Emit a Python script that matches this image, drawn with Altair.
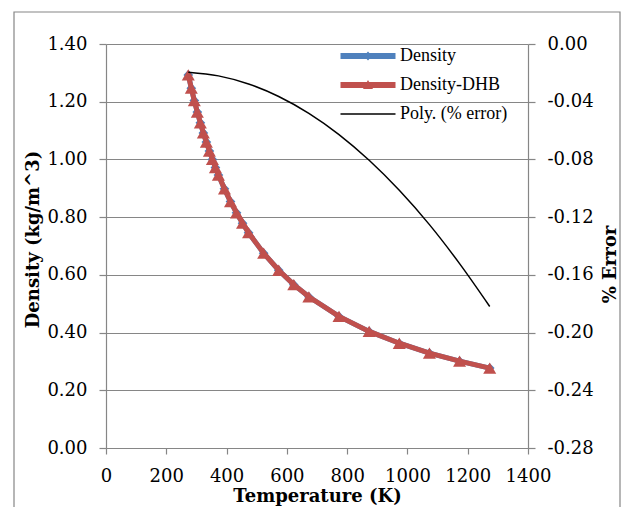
import altair as alt
import pandas as pd

# ---- data ----
temps = [273, 283, 293, 303, 313, 323, 333, 343, 353, 363, 373, 393, 413, 433,
         453, 473, 523, 573, 623, 673, 773, 873, 973, 1073, 1173, 1273]
density = [1.293, 1.247, 1.204, 1.164, 1.127, 1.092, 1.060, 1.029, 1.000, 0.972,
           0.946, 0.898, 0.854, 0.815, 0.779, 0.746, 0.675, 0.616, 0.566, 0.524,
           0.456, 0.404, 0.363, 0.329, 0.301, 0.277]
density_dhb = [1.293, 1.247, 1.204, 1.164, 1.127, 1.092, 1.060, 1.029, 1.000, 0.972,
               0.946, 0.898, 0.854, 0.815, 0.779, 0.746, 0.675, 0.616, 0.566, 0.524,
               0.456, 0.404, 0.363, 0.329, 0.301, 0.277]
err_temps = [273, 373, 473, 573, 673, 773, 873, 973, 1073, 1173, 1273]
err_poly = [-0.0195, -0.0221, -0.0277, -0.0364, -0.0481, -0.0628, -0.0806,
            -0.1014, -0.1252, -0.1522, -0.1819]

series_names = ["Density", "Density-DHB", "Poly. (% error)"]
series_colors = ["#4F81BD", "#C0504D", "#000000"]
legend_paths = [
    "M-5.5,-0.6L5.5,-0.6L5.5,0.6L-5.5,0.6Z M0,-0.9L0.8,0L0,0.9L-0.8,0Z",
    "M-5.5,-0.6L5.5,-0.6L5.5,0.6L-5.5,0.6Z M0,-1.0L1.0,0.8L-1.0,0.8Z",
    "M-5.5,-0.15L5.5,-0.15L5.5,0.15L-5.5,0.15Z",
]

x_ticks = [0, 200, 400, 600, 800, 1000, 1200, 1400]
left_ticks = [0.0, 0.2, 0.4, 0.6, 0.8, 1.0, 1.2, 1.4]
right_ticks = [-0.28, -0.24, -0.20, -0.16, -0.12, -0.08, -0.04, 0.0]

df = pd.DataFrame({"T": temps, "density": density, "dhb": density_dhb})
df_err = pd.DataFrame({"T": err_temps, "err": err_poly})
df_leg = pd.DataFrame({"series": series_names})
df_frame = pd.DataFrame({"a": [0]})

GRAY = "#868686"
TICK_FONT = "DejaVu Serif"
TITLE_FONT = "DejaVu Serif"

x_enc = alt.X("T:Q", scale=alt.Scale(domain=[0, 1400], nice=False),
              axis=alt.Axis(values=x_ticks, title="Temperature (K)", grid=False,
                            format="d", tickSize=6, labelPadding=13,
                            labelOverlap=False, labelFlush=False,
                            titlePadding=2))

y_left = alt.Y("density:Q", scale=alt.Scale(domain=[0, 1.4], nice=False, zero=False),
               axis=alt.Axis(values=left_ticks, format=".2f", title="Density (kg/m^3)",
                             grid=True, gridColor=GRAY, tickSize=7, labelPadding=12,
                             labelOverlap=False, labelFlush=False,
                             titleAngle=270, titleBaseline="middle", titleAlign="center",
                             titleX=-73, titleY=195))
y_left2 = alt.Y("dhb:Q", scale=alt.Scale(domain=[0, 1.4], nice=False, zero=False))

base = alt.Chart(df)
dens_line = base.mark_line(color=series_colors[0], strokeWidth=5).encode(x=x_enc, y=y_left)
dens_pts = base.mark_point(filled=True, shape="diamond", size=95, opacity=1,
                           color=series_colors[0]).encode(x=x_enc, y=y_left)
dhb_line = base.mark_line(color=series_colors[1], strokeWidth=5).encode(x=x_enc, y=y_left2)
dhb_pts = base.mark_point(filled=True, shape="triangle-up", size=170, opacity=1,
                          color=series_colors[1]).encode(x=x_enc, y=y_left2)

legend_layer = alt.Chart(df_leg).transform_filter("false").mark_point(
    filled=True, opacity=1).encode(
    color=alt.Color("series:N", scale=alt.Scale(domain=series_names, range=series_colors),
                    legend=alt.Legend(title=None)),
    shape=alt.Shape("series:N", scale=alt.Scale(domain=series_names, range=legend_paths),
                    legend=alt.Legend(title=None)),
)

frame = alt.Chart(df_frame).mark_rect(fill=None, stroke=GRAY, strokeWidth=1.2).encode(
    x=alt.value(-92), x2=alt.value(514), y=alt.value(-32), y2=alt.value(480))

left = alt.layer(frame, dens_line, dens_pts, dhb_line, dhb_pts, legend_layer)

err_line = alt.Chart(df_err).mark_line(color="black", strokeWidth=1.5,
                                       interpolate="monotone").encode(
    x=x_enc,
    y=alt.Y("err:Q", scale=alt.Scale(domain=[-0.28, 0], nice=False, zero=False),
            axis=alt.Axis(orient="right", values=right_ticks, title="% Error",
                          grid=False, tickSize=7, labelPadding=12, labelOverlap=False,
                          labelFlush=False,
                          titleAngle=270, titleBaseline="middle", titleAlign="center",
                          titleX=82, titleY=220,
                          labelExpr="(datum.value < -0.0001 ? '-' : '') + format(abs(datum.value), '.2f')")),
)

chart = alt.layer(left, err_line).resolve_scale(y="independent").properties(
    width=422, height=404,
    autosize=alt.AutoSizeParams(type="none"),
    padding={"left": 98, "top": 36, "right": 94, "bottom": 59},
).configure_view(stroke=None).configure_axis(
    domainColor=GRAY, tickColor=GRAY, domainWidth=1.2, tickWidth=1.2,
    labelFont=TICK_FONT, labelFontSize=18, labelColor="black",
    titleFont=TITLE_FONT, titleFontSize=18, titleFontWeight="bold", titleColor="black",
).configure_legend(
    orient="none", legendX=253, legendY=3, padding=0,
    symbolSize=100, symbolStrokeWidth=0, labelOffset=23,
    labelFont="Liberation Serif", labelFontSize=18, labelColor="black",
    rowPadding=11, labelLimit=300,
)

chart.save("out.html", embed_options={"renderer": "svg", "actions": False})
